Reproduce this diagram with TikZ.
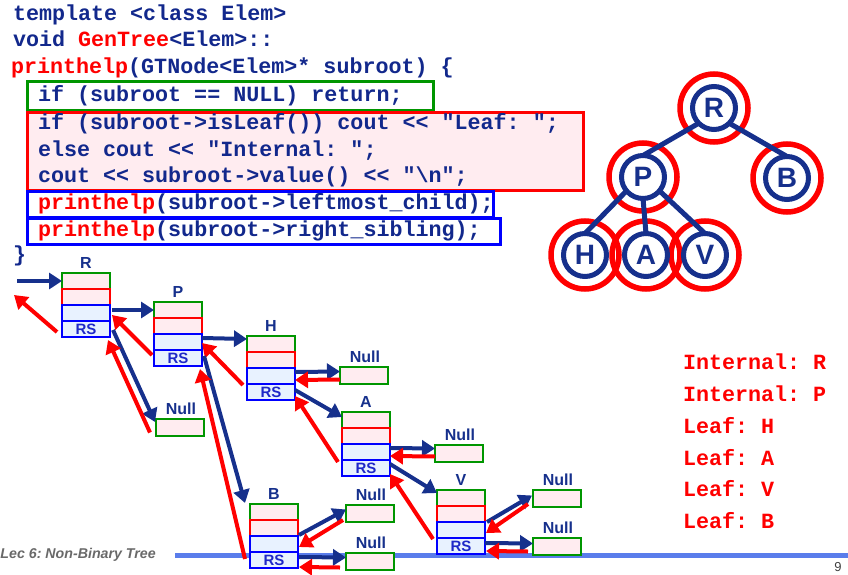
\documentclass[tikz,border=0pt]{standalone}
\usepackage{fontspec}
\setmainfont{Liberation Sans}
\newfontfamily\codefont{Liberation Mono}[Ligatures=TeXOff]
\usetikzlibrary{arrows.meta,calc}
\definecolor{codeblue}{RGB}{18,40,140}
\definecolor{navy}{RGB}{22,48,140}
\definecolor{boxgreen}{RGB}{0,150,0}
\definecolor{boxblue}{RGB}{0,0,255}
\definecolor{rsblue}{RGB}{30,40,200}
\definecolor{pinkfill}{RGB}{255,236,240}
\definecolor{bluefill}{RGB}{232,242,255}
\definecolor{footblue}{RGB}{90,125,235}
\definecolor{footgray}{RGB}{105,105,105}
\newcommand\mkframe[4]{%
  \node[rowbox, draw=boxgreen, fill=pinkfill] (#1-g) at (#2,#3) {};
  \node[rowbox, draw=red, fill=pinkfill] (#1-r) at (#2,#3+16) {};
  \node[rowbox, draw=boxblue, fill=bluefill] (#1-b) at (#2,#3+32) {};
  \node[rowbox, draw=boxblue, fill=bluefill, font=\bfseries\fontsize{15}{15}\selectfont, text=rsblue] (#1-s) at (#2,#3+48) {RS};
  \node[lbl] (#1-l) at (#2+24,#3-10) {#4};
}
\newcommand\mknull[3]{%
  \node[rowbox, draw=boxgreen, fill=pinkfill, minimum height=17pt] (#1) at (#2,#3) {};
  \node[lbl] (#1-l) at (#2+25,#3-10) {Null};
}
\frenchspacing
\begin{document}
\begin{tikzpicture}[x=1pt,y=-1pt,
  every node/.style={outer sep=0pt},
  code/.style={anchor=base west, inner sep=0pt, font=\codefont\bfseries\fontsize{21.7}{26}\selectfont, text=codeblue},
  outtxt/.style={code, text=red},
  cbox/.style={draw, line width=3pt, inner sep=0pt, anchor=north west},
  rowbox/.style={draw, line width=2.6pt, minimum width=48pt, minimum height=16pt, inner sep=0pt, anchor=north west},
  lbl/.style={inner sep=0pt, font=\bfseries\fontsize{16}{16}\selectfont, text=navy},
  fwd/.style={draw=navy, line width=4pt, -{Triangle[length=13pt,width=16pt]}},
  back/.style={draw=red, line width=4pt, -{Triangle[length=13pt,width=16pt]}},
  tc/.style={circle, draw=navy, line width=5pt, minimum size=43pt, inner sep=0pt, fill=white, font=\bfseries\fontsize{28}{28}\selectfont, text=navy},
  ring/.style={circle, draw=red, line width=5.5pt, minimum size=68pt, inner sep=0pt},
  tedge/.style={draw=navy, line width=5pt}
]
\useasboundingbox (0,0) rectangle (848,575);

% footer line
\coordinate (fl) at (175,555);
\coordinate (fr) at (848,555);
\draw[line width=5pt, footblue] (fl) -- (fr);
\node[anchor=west, inner sep=0pt, font=\bfseries\itshape\fontsize{14.2}{14.2}\selectfont, text=footgray] (foot) at (0.5,555) {Lec 6: Non-Binary Tree};
\node[inner sep=0pt, font=\fontsize{13}{13}\selectfont, text=black!75] (pg) at (838,567) {9};

% code boxes
\node[cbox, draw=boxgreen, minimum width=406pt, minimum height=29pt] (gbox) at (27,82) {};
\node[cbox, draw=red, fill=pinkfill, minimum width=556pt, minimum height=77pt] (rbox) at (27,113) {};
\node[cbox, draw=boxblue, minimum width=466pt, minimum height=26pt] (bbox1) at (27,191) {};
\node[cbox, draw=boxblue, minimum width=473pt, minimum height=26pt] (bbox2) at (27,218) {};

% code text
\node[code] (c1) at (13,21) {template <class Elem>};
\node[code] (c2) at (13,47) {void {\color{red}GenTree}<Elem>::};
\node[code] (c3) at (11,74) {{\color{red}printhelp}(GTNode<Elem>* subroot) \{};
\node[code] (c4) at (38,102) {if (subroot == NULL) return;};
\node[code] (c5) at (38,129) {if (subroot->isLeaf()) cout << "Leaf: ";};
\node[code] (c6) at (38,156) {else cout << "Internal: ";};
\node[code] (c7) at (38,182) {cout << subroot->value() << "\textbackslash n";};
\node[code] (c8) at (38,209) {{\color{red}printhelp}(subroot->leftmost\_child);};
\node[code] (c9) at (38,236) {{\color{red}printhelp}(subroot->right\_sibling);};
\node[code] (c10) at (13,261) {\}};

% tree
\node[ring] (Rr) at (714,108) {};
\node[ring] (Pr) at (643,177) {};
\node[ring] (Br) at (787,178) {};
\node[ring] (Hr) at (585,255) {};
\node[ring] (Ar) at (646,255) {};
\node[ring] (Vr) at (705,255) {};
\node[tc] (R) at (714,108) {R};
\node[tc] (P) at (643,177) {P};
\node[tc] (B) at (787,178) {B};
\node[tc] (H) at (585,255) {H};
\node[tc] (A) at (646,255) {A};
\node[tc] (V) at (705,255) {V};
\draw[tedge] (R.-135) -- (P.north);
\draw[tedge] (R.-45) -- (B.north);
\draw[tedge] (P.-140) -- (H.north);
\draw[tedge] (P.south) -- (A.north);
\draw[tedge] (P.-40) -- (V.north);

% output
\node[outtxt] (o1) at (683,369) {Internal: R};
\node[outtxt] (o2) at (683,401) {Internal: P};
\node[outtxt] (o3) at (683,433) {Leaf: H};
\node[outtxt] (o4) at (683,465) {Leaf: A};
\node[outtxt] (o5) at (683,496) {Leaf: V};
\node[outtxt] (o6) at (683,528) {Leaf: B};

% stack frames
\mkframe{FR}{62}{273}{R}
\mkframe{FP}{154}{302}{P}
\mkframe{FH}{247}{336}{H}
\mkframe{FA}{342}{412}{A}
\mkframe{FV}{437}{490}{V}
\mkframe{FB}{250}{504}{B}
\mknull{NR}{156}{419}
\mknull{NH}{340}{367}
\mknull{NA}{435}{445}
\mknull{NB1}{346}{505}
\mknull{NB2}{346}{553}
\mknull{NV1}{533}{490}
\mknull{NV2}{533}{538}

\coordinate (entry) at (17,281);
\coordinate (exit) at (14,295);

% calls and returns
\draw[fwd] (entry) -- (FR-g.west);
\draw[back] ($(FR-s.west)+(-5,3)$) -- (exit);
\draw[fwd] ($(FR-b.east)+(2,-3)$) -- (FP-g.west);
\draw[back] ($(FP-s.west)+(-2,-3)$) -- ($(FR-b.east)+(2,2)$);
\draw[fwd] ($(FR-s.east)+(3,1)$) -- ($(NR.north west)+(-1,3)$);
\draw[back] ($(NR.west)+(-6,5)$) -- ($(FR-s.south east)+(-2,3)$);
\draw[fwd] ($(FP-b.east)+(0,-4)$) -- ($(FH-g.west)+(0,-5)$);
\draw[back] ($(FH-s.west)+(-4,-7)$) -- ($(FP-b.east)+(0,1)$);
\draw[fwd] ($(FP-s.east)+(2,-2)$) -- ($(FB-g.north west)+(-5,-1)$);
\draw[back] ($(FB-s.west)+(-5,-1)$) -- ($(FP-s.south east)+(-2,3)$);
\draw[fwd] ($(FH-b.east)+(0,-4)$) -- ($(NH.west)+(0,-4)$);
\draw[back] ($(NH.west)+(0,4)$) -- ($(FH-b.east)+(0,4)$);
\draw[fwd] ($(FH-s.east)+(0,-2)$) -- ($(FA-g.north west)+(0,5)$);
\draw[back] ($(FA-s.west)+(-4,-6)$) -- ($(FH-s.east)+(0,4)$);
\draw[fwd] ($(FA-b.east)+(0,-4)$) -- ($(NA.west)+(0,-5)$);
\draw[back] ($(NA.west)+(0,3)$) -- ($(FA-b.east)+(0,4)$);
\draw[fwd] ($(FA-s.east)+(0,-4)$) -- ($(FV-g.north west)+(0,3)$);
\draw[back] ($(FV-s.west)+(-4,-7)$) -- ($(FA-s.east)+(0,6)$);
\draw[fwd] ($(FV-b.north east)+(2,0)$) -- ($(NV1.west)+(-1,-3)$);
\draw[back] ($(NV1.south west)+(-5,-3)$) -- ($(FV-b.east)+(1,3)$);
\draw[fwd] ($(FV-s.east)+(0,-3)$) -- ($(NV2.west)+(0,-3)$);
\draw[back] ($(NV2.west)+(-5,5)$) -- ($(FV-s.east)+(1,5)$);
\draw[fwd] ($(FB-b.north east)+(1,-1)$) -- ($(NB1.west)+(0,-4)$);
\draw[back] ($(NB1.south west)+(-3,-2)$) -- ($(FB-b.east)+(1,3)$);
\draw[fwd] ($(FB-s.east)+(1,-3)$) -- ($(NB2.west)+(0,-4)$);
\draw[back] ($(NB2.west)+(-6,6)$) -- ($(FB-s.east)+(1,7)$);
\end{tikzpicture}
\end{document}
